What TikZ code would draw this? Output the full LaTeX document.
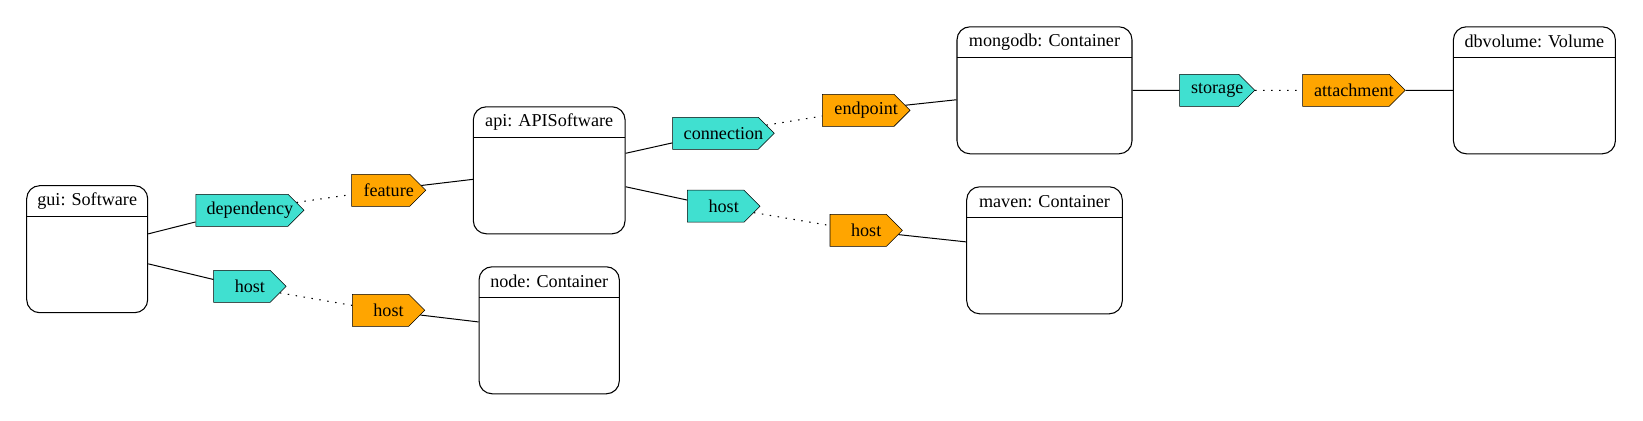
\documentclass[tikz,border=0pt]{standalone}
\usepackage{fontspec}
\setmainfont{Liberation Serif}
\usetikzlibrary{shapes.symbols}
\definecolor{tagcyan}{HTML}{40E0D0}
\definecolor{tagorange}{HTML}{FFA500}

\begin{document}
\begin{tikzpicture}[x=0.75pt, y=-0.75pt,
            every node/.style={font=\fontsize{13.6pt}{16pt}\selectfont},
            entity/.style={draw, line width=0.8pt, rounded corners=9.75pt, minimum height=95.25pt, minimum width=#1,
                path picture={\draw[line width=0.8pt] ([yshift=-23.25pt]path picture bounding box.north west) -- ([yshift=-23.25pt]path picture bounding box.north east);}},
            title/.style={inner sep=0pt},
            tag/.style={draw, signal, signal to=east, signal pointer angle=90, minimum height=24pt, minimum width=#1, inner sep=1pt,
                xshift=-6pt, execute at begin node=\hspace*{6pt}, execute at end node=\hspace*{-6pt}},
            provided/.style={tag=#1, fill=tagcyan},
            required/.style={tag=#1, fill=tagorange},
            link/.style={black, line width=0.75pt},
            binding/.style={black, line width=0.8pt, dash pattern=on 1.1pt off 4.9pt}]

        \useasboundingbox (0,0) rectangle (1643,421);

        \node[entity=90.75pt] (gui) at (87.2,249.2) {};
        \node[title] (gui title) at ([yshift=-11.6pt]gui.north) {gui: Software};
        \node[entity=113.8pt] (api) at (549.2,170.3) {};
        \node[title] (api title) at ([yshift=-11.6pt]api.north) {api: APISoftware};
        \node[entity=105.2pt] (nodecontainer) at (549.2,330.3) {};
        \node[title] (nodecontainer title) at ([yshift=-11.6pt]nodecontainer.north) {node: Container};
        \node[entity=131.25pt] (mongodb) at (1044.5,90.3) {};
        \node[title] (mongodb title) at ([yshift=-11.6pt]mongodb.north) {mongodb: Container};
        \node[entity=116.7pt] (maven) at (1044.5,250.3) {};
        \node[title] (maven title) at ([yshift=-11.6pt]maven.north) {maven: Container};
        \node[entity=121.5pt] (dbvolume) at (1534.4,90.3) {};
        \node[title] (dbvolume title) at ([yshift=-11.6pt]dbvolume.north) {dbvolume: Volume};

        \node[provided=81.2pt] (dependency) at (249.9,210.3) {dependency};
        \node[provided=54.3pt] (gui host) at (249.9,286.3) {host};
        \node[required=55.5pt] (feature) at (388.7,190.3) {feature};
        \node[required=54.3pt] (node host) at (388.5,310.3) {host};
        \node[provided=76.2pt] (connection) at (723.5,133.3) {connection};
        \node[provided=54.5pt] (api host) at (723.7,206.2) {host};
        \node[required=65.8pt] (endpoint) at (866.2,110.3) {endpoint};
        \node[required=54.3pt] (maven host) at (866.2,230.3) {host};
        \node[provided=56.25pt] (storage) at (1217.2,90.3) {storage};
        \node[required=77pt] (attachment) at (1353.9,90.3) {attachment};

        \draw[link] (gui) -- (dependency);
        \draw[binding] (dependency) -- (feature);
        \draw[link] (feature) -- (api);
        \draw[link] (gui) -- (gui host);
        \draw[binding] (gui host) -- (node host);
        \draw[link] (node host) -- (nodecontainer);
        \draw[link] (api) -- (connection);
        \draw[binding] (connection) -- (endpoint);
        \draw[link] (endpoint) -- (mongodb);
        \draw[link] (api) -- (api host);
        \draw[binding] (api host) -- (maven host);
        \draw[link] (maven host) -- (maven);
        \draw[link] (mongodb) -- (storage);
        \draw[binding] (storage) -- (attachment);
        \draw[link] (attachment) -- (dbvolume);
    \end{tikzpicture}
\end{document}
